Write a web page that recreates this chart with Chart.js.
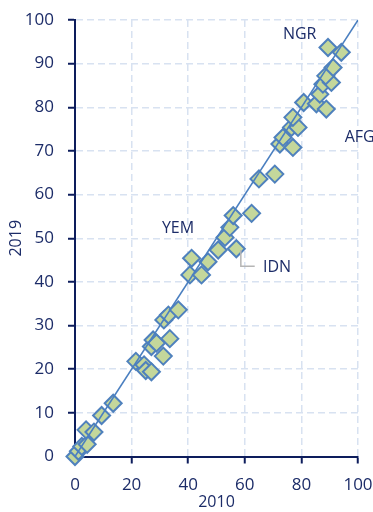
<!DOCTYPE html>
<html>
<head>
<meta charset="utf-8">
<script src="https://cdn.jsdelivr.net/npm/chart.js@4/dist/chart.umd.min.js"></script>
<style>
html,body{margin:0;padding:0;background:#fff;}
#wrap{width:373px;height:512px;position:relative;}
</style>
</head>
<body>
<div id="wrap"><canvas id="c" width="373" height="512"></canvas></div>
<script>
// values
const x2010=[0,1.2,2.4,4.3,3.9,6.7,9.4,13.5,21.5,24.4,25,27,27,27.6,28.8,31.2,33.5,31.4,33,36.5,40.6,41.2,44.7,47,50.6,53,54.7,55.9,57,62.4,65,70.6,72.4,73.5,77,76.5,78.8,77,80.8,85.3,88.8,86.5,87.6,90.6,88.6,91.2,89.4,94.1];
const y2019=[0,1.2,2.3,2.8,6.1,5.6,9.4,12.2,21.8,21,19.7,19.4,25.2,26.7,26,23,27,31.3,32.4,33.6,41.6,45.4,41.6,44.6,47.3,50.2,52.5,55.2,47.6,55.7,63.6,64.7,71.6,73.1,70.8,75.4,75.4,77.7,81.1,80.8,79.6,83,85.3,85.7,87.2,89.1,93.7,92.6];
const diagX=[0,100],diagY=[0,100];
const tickX=[0,20,40,60,80,100];
const notes=[{t:'NGR',x:79.4,y:96.6,align:'center'},{t:'AFG',x:95.3,y:73.2,align:'left'},{t:'YEM',x:36.4,y:52.3,align:'center'},{t:'IDN',x:66.4,y:43.4,align:'left'}];

const navy='#1c2c68',axis='#0d1d5c',grid='#d8e2f1';
const pts=x2010.map((x,i)=>({x,y:y2019[i]}));
const diag=diagX.map((x,i)=>({x,y:diagY[i]}));
const fnt={family:'Open Sans',size:17};

const notePlugin={id:'notes',afterDatasetsDraw(ch){
  const {ctx,scales:{x,y}}=ch;ctx.save();
  // IDN leader
  ctx.strokeStyle='#b5b5b5';ctx.lineWidth=1.5;ctx.beginPath();
  ctx.moveTo(x.getPixelForValue(58.6),y.getPixelForValue(47.3));
  ctx.lineTo(x.getPixelForValue(58.6),y.getPixelForValue(43.6));
  ctx.lineTo(x.getPixelForValue(63.5),y.getPixelForValue(43.6));ctx.stroke();
  ctx.font='16px "Open Sans"';ctx.fillStyle=navy;ctx.textBaseline='middle';
  notes.forEach(n=>{ctx.textAlign=n.align;ctx.fillText(n.t,x.getPixelForValue(n.x),y.getPixelForValue(n.y));});
  ctx.restore();}};

new Chart(document.getElementById('c'),{
  type:'scatter',
  data:{datasets:[
    {type:'line',data:diag,borderColor:'#4a7fc0',borderWidth:1.5,pointRadius:0,fill:false},
    {data:pts,pointStyle:'rectRot',pointRadius:8.5,backgroundColor:'#c4d79b',borderColor:'#4f81bd',borderWidth:2,clip:false}
  ]},
  options:{
    responsive:false,animation:false,
    layout:{padding:{top:20,right:15,left:0,bottom:0}},
    plugins:{legend:{display:false},tooltip:{enabled:false}},
    scales:{
      x:{type:'linear',min:0,max:100,
        afterFit:s=>{s.height=55.5;s.paddingRight=0;s.paddingLeft=0;},
        afterBuildTicks:s=>{s.ticks=tickX.map(v=>({value:v}));},
        grid:{color:grid,lineWidth:1.5,tickColor:axis,tickLength:7,tickWidth:2},
        border:{color:axis,width:2,dash:[7,4]},
        ticks:{color:navy,font:fnt,padding:11,maxRotation:0},
        title:{display:true,text:'2010',color:navy,font:{family:'Open Sans',size:16},padding:{top:0,bottom:0}}},
      y:{type:'linear',min:0,max:100,
        afterFit:s=>{s.width=75;s.paddingTop=0;s.paddingBottom=0;},
        ticks:{stepSize:10,color:navy,font:fnt,padding:14},
        grid:{color:grid,lineWidth:1.5,tickColor:axis,tickLength:7,tickWidth:2},
        border:{color:axis,width:2,dash:[7,4]},
        title:{display:true,text:'2019',color:navy,font:{family:'Open Sans',size:16},padding:{top:7,bottom:0}}}
    }
  },
  plugins:[notePlugin]
});
</script>
</body>
</html>
